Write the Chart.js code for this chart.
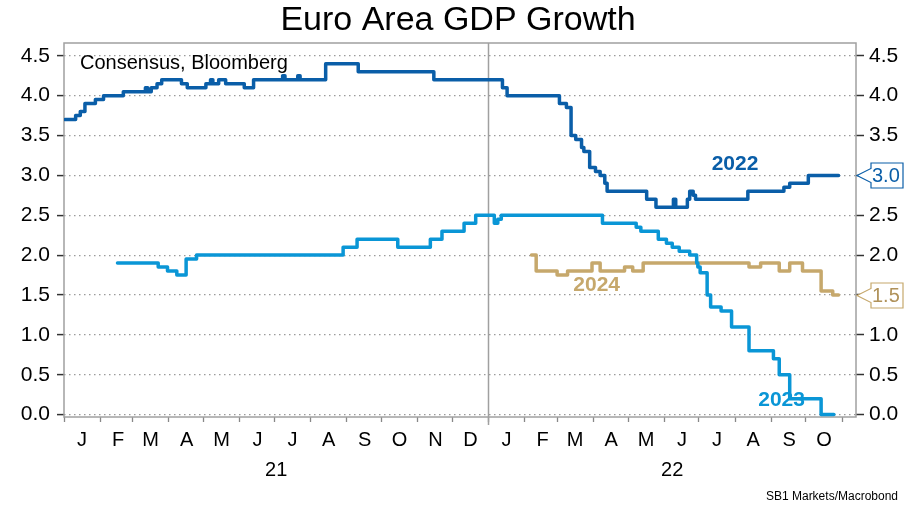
<!DOCTYPE html>
<html>
<head>
<meta charset="utf-8">
<title>Euro Area GDP Growth</title>
<script src="https://cdn.jsdelivr.net/npm/chart.js@4.4.1/dist/chart.umd.min.js"></script>
<style>
  html, body { margin: 0; padding: 0; background: #fff; }
</style>
</head>
<body>
<canvas id="gdpChart" width="916" height="508"></canvas>
<script>
// Consensus GDP growth forecasts for the euro area (Bloomberg), by forecast year
// each entry = date the consensus changed, value from that date on

var dates2022 = ['2021-01-02','2021-01-11','2021-01-15','2021-01-19','2021-01-28','2021-02-04','2021-02-21',
  '2021-03-12','2021-03-14','2021-03-17','2021-03-22','2021-03-26','2021-04-12','2021-04-17','2021-05-03',
  '2021-05-07','2021-05-09','2021-05-14','2021-05-20','2021-06-05','2021-06-13','2021-07-08','2021-07-10',
  '2021-07-21','2021-07-23','2021-08-14','2021-09-11','2021-11-15','2022-01-13','2022-01-17','2022-03-03',
  '2022-03-09','2022-03-13','2022-03-17','2022-03-22','2022-03-24','2022-03-29','2022-04-03','2022-04-07',
  '2022-04-11','2022-04-13','2022-05-17','2022-05-25','2022-06-09','2022-06-11','2022-06-21','2022-06-23',
  '2022-06-26','2022-06-28','2022-08-12','2022-09-12','2022-09-17','2022-10-03','2022-10-29'];
var values2022 = [3.7,3.75,3.8,3.9,3.95,4.0,4.05,
  4.1,4.05,4.1,4.15,4.2,4.15,4.1,4.15,
  4.2,4.15,4.2,4.15,4.1,4.2,4.25,4.2,
  4.25,4.2,4.4,4.3,4.2,4.1,4.0,3.9,
  3.85,3.5,3.45,3.35,3.3,3.1,3.05,3.0,
  2.9,2.8,2.7,2.6,2.7,2.6,2.7,2.8,
  2.75,2.7,2.8,2.85,2.9,3.0,3.0];

var dates2023 = ['2021-02-16','2021-03-23','2021-03-31','2021-04-08','2021-04-16','2021-04-25','2021-08-29',
  '2021-09-10','2021-10-15','2021-11-12','2021-11-22','2021-12-11','2021-12-21','2022-01-06','2022-01-09',
  '2022-01-12','2022-04-09','2022-05-08','2022-05-12','2022-05-27','2022-06-03','2022-06-08','2022-06-14',
  '2022-06-23','2022-06-29','2022-06-30','2022-07-02','2022-07-08','2022-07-11','2022-07-20','2022-07-29',
  '2022-08-13','2022-09-03','2022-09-08','2022-09-17','2022-10-14','2022-10-25'];
var values2023 = [1.9,1.85,1.8,1.75,1.95,2.0,2.1,
  2.2,2.1,2.2,2.3,2.4,2.5,2.4,2.45,
  2.5,2.4,2.35,2.3,2.2,2.15,2.1,2.05,
  2.0,1.9,1.85,1.78,1.5,1.35,1.3,1.1,
  0.8,0.7,0.5,0.2,0.0,0.0];

var dates2024 = ['2022-02-07','2022-02-11','2022-03-01','2022-03-10','2022-03-31','2022-04-07','2022-04-28',
  '2022-05-05','2022-05-14','2022-08-13','2022-08-23','2022-09-08','2022-09-17','2022-09-28','2022-10-14',
  '2022-10-24','2022-10-29'];
var values2024 = [2.0,1.8,1.75,1.8,1.9,1.8,1.85,
  1.8,1.9,1.85,1.9,1.8,1.9,1.8,1.55,
  1.5,1.5];

var seriesNames = ['2022', '2023', '2024'];
var monthLetters = ['J','F','M','A','M','J','J','A','S','O','N','D'];
var yearLabels = ['21', '22'];
var yTicks = [0, 0.5, 1, 1.5, 2, 2.5, 3, 3.5, 4, 4.5];

var FONT = '"Liberation Sans", Arial, sans-serif';
var DARK = '#0a5ea8', LIGHT = '#0a96d6', TAN = '#c6a86c';

var day = function (s) { return (Date.parse(s) - Date.parse('2021-01-01')) / 864e5; };
var toPoints = function (d, v) { return d.map(function (s, i) { return { x: day(s), y: v[i] }; }); };

var monthStarts = [];
for (var m = 0; m <= 22; m++) monthStarts.push((Date.UTC(2021, m, 1) - Date.UTC(2021, 0, 1)) / 864e5);
var xMax = day('2022-11-13');

var extras = {
  id: 'extras',
  beforeDatasetsDraw: function (chart) {
    var ctx = chart.ctx, a = chart.chartArea, x = chart.scales.x;
    ctx.save();
    // year divider
    var xd = Math.round(x.getPixelForValue(day('2022-01-01'))) + 0.5;
    ctx.strokeStyle = '#a0a0a0';
    ctx.lineWidth = 1.5;
    ctx.beginPath();
    ctx.moveTo(xd, a.top);
    ctx.lineTo(xd, a.bottom + 8);
    ctx.stroke();
    // frame
    ctx.strokeRect(a.left, a.top, a.right - a.left, a.bottom - a.top);
    ctx.restore();
  },
  afterDraw: function (chart) {
    var ctx = chart.ctx, a = chart.chartArea, x = chart.scales.x, y = chart.scales.y;
    ctx.save();
    ctx.textBaseline = 'middle';

    ctx.fillStyle = '#000';
    ctx.font = '20px ' + FONT;
    ctx.textAlign = 'left';
    ctx.fillText('Consensus, Bloomberg', a.left + 16, a.top + 20);

    // year labels under months
    ctx.font = '20px ' + FONT;
    ctx.textAlign = 'center';
    ctx.fillText(yearLabels[0], x.getPixelForValue((0 + day('2022-01-01')) / 2), 470);
    ctx.fillText(yearLabels[1], x.getPixelForValue((day('2022-01-01') + xMax) / 2), 470);

    // series labels
    ctx.font = 'bold 21px ' + FONT;
    ctx.fillStyle = DARK;
    ctx.fillText(seriesNames[0], x.getPixelForValue(day('2022-08-01')), y.getPixelForValue(3.14));
    ctx.fillStyle = LIGHT;
    ctx.fillText(seriesNames[1], x.getPixelForValue(day('2022-09-10')), y.getPixelForValue(0.18));
    ctx.fillStyle = TAN;
    ctx.fillText(seriesNames[2], x.getPixelForValue(day('2022-04-04')), y.getPixelForValue(1.62));

    // last value tags on the right axis
    var tag = function (val, stroke, txt) {
      var py = Math.round(y.getPixelForValue(val)) + 0.5;
      var tip = a.right + 1, bx = a.right + 15, w = 32, h = 25;
      ctx.beginPath();
      ctx.moveTo(tip, py);
      ctx.lineTo(bx, py - 7);
      ctx.lineTo(bx, py - h / 2);
      ctx.lineTo(bx + w, py - h / 2);
      ctx.lineTo(bx + w, py + h / 2);
      ctx.lineTo(bx, py + h / 2);
      ctx.lineTo(bx, py + 7);
      ctx.closePath();
      ctx.fillStyle = '#fff';
      ctx.fill();
      ctx.strokeStyle = stroke;
      ctx.lineWidth = 1.2;
      ctx.stroke();
      ctx.fillStyle = txt;
      ctx.font = '20px ' + FONT;
      ctx.textAlign = 'left';
      ctx.fillText(val.toFixed(1), bx + 1, py + 1);
    };
    tag(values2022[values2022.length - 1], DARK, DARK);
    tag(values2024[values2024.length - 1], TAN, '#b0925a');

    ctx.fillStyle = '#000';
    ctx.font = '12px ' + FONT;
    ctx.textAlign = 'right';
    ctx.fillText('SB1 Markets/Macrobond', 898, 497);
    ctx.restore();
  }
};

var setYTicks = function (scale) {
  scale.ticks = yTicks.map(function (v) { return { value: v }; });
};

var lineStyle = { pointRadius: 0, borderWidth: 3.5, stepped: 'before', fill: false,
  borderJoinStyle: 'round', borderCapStyle: 'round' };

var gdpChart = new Chart(document.getElementById('gdpChart'), {
  type: 'line',
  data: {
    datasets: [
      Object.assign({ label: seriesNames[0], data: toPoints(dates2022, values2022), borderColor: DARK }, lineStyle),
      Object.assign({ label: seriesNames[1], data: toPoints(dates2023, values2023), borderColor: LIGHT }, lineStyle),
      Object.assign({ label: seriesNames[2], data: toPoints(dates2024, values2024), borderColor: TAN }, lineStyle)
    ]
  },
  options: {
    responsive: false,
    animation: false,
    layout: { padding: 0 },
    plugins: {
      legend: { display: false },
      tooltip: { enabled: false },
      title: {
        display: true,
        text: 'Euro Area GDP Growth',
        color: '#000',
        font: { family: FONT, size: 34, weight: 'normal', lineHeight: 1.0 },
        padding: { top: 4, bottom: 5 }
      }
    },
    scales: {
      x: {
        type: 'linear',
        min: 0,
        max: xMax,
        afterBuildTicks: function (scale) {
          scale.ticks = monthStarts.map(function (v) { return { value: v }; });
        },
        afterFit: function (scale) { scale.height = 91; },
        border: { display: false },
        grid: { drawOnChartArea: false, drawTicks: true, tickLength: 5, tickColor: '#888', tickWidth: 1.3 },
        ticks: {
          autoSkip: false,
          maxRotation: 0,
          labelOffset: 18,
          padding: 6,
          color: '#000',
          font: { family: FONT, size: 20 },
          callback: function (v, i) { return i < 22 ? monthLetters[i % 12] : ''; }
        }
      },
      y: {
        position: 'left',
        min: -0.03,
        max: 4.66,
        afterBuildTicks: setYTicks,
        afterFit: function (scale) { scale.width = 64; },
        border: { display: false, dash: [1.5, 3.5] },
        grid: { color: '#9a9a9a', lineWidth: 1.2, drawTicks: true, tickLength: 7, tickColor: '#333',
          tickWidth: 1.5, tickBorderDash: [] },
        ticks: { padding: 7, color: '#000', font: { family: FONT, size: 21 },
          callback: function (v) { return v.toFixed(1); } }
      },
      y2: {
        axis: 'y',
        display: true,
        position: 'right',
        min: -0.03,
        max: 4.66,
        afterBuildTicks: setYTicks,
        afterFit: function (scale) { scale.width = 60; },
        border: { display: false },
        grid: { drawOnChartArea: false, drawTicks: true, tickLength: 8, tickColor: '#333', tickWidth: 1.5 },
        ticks: { padding: 5, color: '#000', font: { family: FONT, size: 21 },
          callback: function (v) { return v.toFixed(1); } }
      }
    }
  },
  plugins: [extras]
});
</script>
</body>
</html>
